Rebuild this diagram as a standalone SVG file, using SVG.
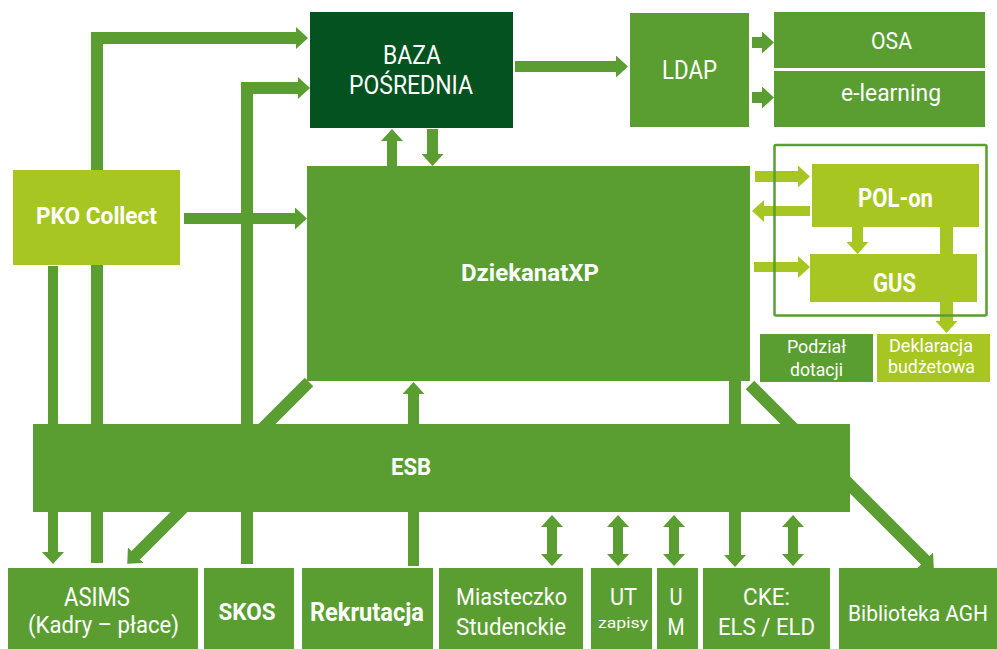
<svg xmlns="http://www.w3.org/2000/svg" width="997" height="649" viewBox="0 0 997 649">
<style>
  .g{fill:#5a9e32}
  .d{fill:#03521f}
  .l{fill:#a8c622}
  .c{fill:none;stroke:#5a9e32;stroke-linejoin:miter}
  .cl{fill:none;stroke:#a8c622;stroke-linejoin:miter}
  .w11{stroke-width:11}
  .w10{stroke-width:10}
  .w12{stroke-width:12}
  .w13{stroke-width:13}
  text{fill:#ffffff;font-family:Roboto,"Liberation Sans",sans-serif;text-anchor:middle}
  .n{font-size:24px;font-weight:400}
  .b{font-size:24px;font-weight:700}
  .s{font-size:19px;font-weight:400}
  .xs{font-size:15px;font-weight:400}
</style>
<defs>
  <marker id="ah" viewBox="0 0 12 22" refX="1" refY="11" markerWidth="12" markerHeight="22" markerUnits="userSpaceOnUse" orient="auto-start-reverse">
    <path d="M0,0 L12,11 L0,22 Z" fill="#5a9e32"/>
  </marker>
  <marker id="ahl" viewBox="0 0 12 22" refX="1" refY="11" markerWidth="12" markerHeight="22" markerUnits="userSpaceOnUse" orient="auto-start-reverse">
    <path d="M0,0 L12,11 L0,22 Z" fill="#a8c622"/>
  </marker>
</defs>
<rect width="997" height="649" fill="#ffffff"/>

<g id="connectors">
  <path class="c w12" d="M97,563 V38 H297" marker-end="url(#ah)"/>
  <path class="c w12" d="M247,564 V88 H299" marker-end="url(#ah)"/>
  <path class="c w10" d="M53,266 V553" marker-end="url(#ah)"/>
  <path class="c w12" d="M309,382 L135,556" marker-end="url(#ah)"/>
  <path class="c w11" d="M184,218.5 H296" marker-end="url(#ah)"/>
  <path class="c w11" d="M432.5,129 V155" marker-end="url(#ah)"/>
  <path class="c w10" d="M392,166 V140" marker-end="url(#ah)"/>
  <path class="c w11" d="M515,66.5 H617" marker-end="url(#ah)"/>
  <path class="c w11" d="M752,42.5 H763" marker-end="url(#ah)"/>
  <path class="c w11" d="M752,97.5 H763" marker-end="url(#ah)"/>
  <path class="c w11" d="M413.5,566 V393" marker-end="url(#ah)"/>
  <path class="c w12" d="M735,381 V556" marker-end="url(#ah)"/>
  <path class="c w12" d="M750,385 L926,561" marker-end="url(#ah)"/>
  <path class="c w10" d="M552,526 V555" marker-start="url(#ah)" marker-end="url(#ah)"/>
  <path class="c w10" d="M618,526 V555" marker-start="url(#ah)" marker-end="url(#ah)"/>
  <path class="c w10" d="M674,526 V555" marker-start="url(#ah)" marker-end="url(#ah)"/>
  <path class="c w10" d="M793,526 V555" marker-start="url(#ah)" marker-end="url(#ah)"/>
  <path class="cl w11" d="M755,176.5 H799" marker-end="url(#ahl)"/>
  <path class="cl w10" d="M810,211 H763" marker-end="url(#ahl)"/>
  <path class="cl w10" d="M754,267 H799" marker-end="url(#ahl)"/>
  <path class="cl w11" d="M857.5,227 V243" marker-end="url(#ahl)"/>
  <path class="cl w13" d="M946.5,227 V322" marker-end="url(#ahl)"/>
</g>

<g id="group-box">
  <rect x="774.5" y="145" width="212" height="170.5" rx="1.5" fill="none" stroke="#5a9e32" stroke-width="2.5"/>
</g>

<g id="baza">
  <rect class="d" x="310" y="12" width="203" height="116"/>
  <text class="n" x="412" y="64" textLength="58" lengthAdjust="spacingAndGlyphs" style="font-size:25px">BAZA</text>
  <text class="n" x="411" y="94" textLength="124" lengthAdjust="spacingAndGlyphs" style="font-size:25px">POŚREDNIA</text>
</g>
<g id="ldap">
  <rect class="g" x="630" y="13" width="119" height="114"/>
  <text class="n" x="689.5" y="79" textLength="55" lengthAdjust="spacingAndGlyphs" style="font-size:25px">LDAP</text>
</g>
<g id="osa">
  <rect class="g" x="774" y="12" width="211" height="56"/>
  <text class="n" x="891.5" y="49" textLength="41" lengthAdjust="spacingAndGlyphs">OSA</text>
</g>
<g id="elearning">
  <rect class="g" x="774" y="71" width="211" height="56"/>
  <text class="n" x="891" y="101" textLength="100" lengthAdjust="spacingAndGlyphs">e-learning</text>
</g>
<g id="pko">
  <rect class="l" x="13" y="170" width="167" height="95"/>
  <text class="b" x="96.5" y="224" textLength="121" lengthAdjust="spacingAndGlyphs">PKO Collect</text>
</g>
<g id="dziekanat">
  <rect class="g" x="307" y="166" width="443" height="215"/>
  <text class="b" x="530" y="281" textLength="138" lengthAdjust="spacingAndGlyphs">DziekanatXP</text>
</g>
<g id="polon">
  <rect class="l" x="812" y="164" width="167" height="63"/>
  <text class="b" x="895.5" y="207" textLength="75" lengthAdjust="spacingAndGlyphs" style="font-size:25px">POL-on</text>
</g>
<g id="gus">
  <rect class="l" x="810" y="254" width="167" height="48"/>
  <text class="b" x="894.5" y="292" textLength="43" lengthAdjust="spacingAndGlyphs" style="font-size:26px">GUS</text>
</g>
<g id="podzial">
  <rect class="g" x="760" y="334" width="113" height="48"/>
  <text class="s" x="816.5" y="353" textLength="59" lengthAdjust="spacingAndGlyphs">Podział</text>
  <text class="s" x="816.5" y="376" textLength="53" lengthAdjust="spacingAndGlyphs">dotacji</text>
</g>
<g id="deklaracja">
  <rect class="l" x="877" y="334" width="113" height="48"/>
  <text class="s" x="931" y="352" textLength="84" lengthAdjust="spacingAndGlyphs">Deklaracja</text>
  <text class="s" x="931.5" y="373" textLength="87" lengthAdjust="spacingAndGlyphs">budżetowa</text>
</g>
<g id="esb">
  <rect class="g" x="33" y="424" width="817" height="88"/>
  <text class="b" x="411" y="475" textLength="40" lengthAdjust="spacingAndGlyphs">ESB</text>
</g>
<g id="asims">
  <rect class="g" x="8" y="568" width="190" height="81"/>
  <text class="n" x="97" y="606" textLength="66" lengthAdjust="spacingAndGlyphs" style="font-size:25px">ASIMS</text>
  <text class="n" x="103.5" y="633" textLength="151" lengthAdjust="spacingAndGlyphs">(Kadry – płace)</text>
</g>
<g id="skos">
  <rect class="g" x="204" y="568" width="90" height="81"/>
  <text class="b" x="247" y="620" textLength="57" lengthAdjust="spacingAndGlyphs">SKOS</text>
</g>
<g id="rekrutacja">
  <rect class="g" x="302" y="568" width="131" height="81"/>
  <text class="b" x="367" y="621" textLength="114" lengthAdjust="spacingAndGlyphs" style="font-size:25px">Rekrutacja</text>
</g>
<g id="miasteczko">
  <rect class="g" x="439" y="568" width="144" height="81"/>
  <text class="n" x="511.5" y="605" textLength="111" lengthAdjust="spacingAndGlyphs">Miasteczko</text>
  <text class="n" x="511" y="635" textLength="110" lengthAdjust="spacingAndGlyphs">Studenckie</text>
</g>
<g id="ut">
  <rect class="g" x="591" y="568" width="61" height="81"/>
  <text class="n" x="623.5" y="605" textLength="27" lengthAdjust="spacingAndGlyphs">UT</text>
  <text class="xs" x="623" y="628" textLength="50" lengthAdjust="spacingAndGlyphs">zapisy</text>
</g>
<g id="um">
  <rect class="g" x="657" y="568" width="41" height="81"/>
  <text class="n" x="676" y="605" textLength="13" lengthAdjust="spacingAndGlyphs">U</text>
  <text class="n" x="676" y="635" textLength="17" lengthAdjust="spacingAndGlyphs">M</text>
</g>
<g id="cke">
  <rect class="g" x="703" y="568" width="127" height="81"/>
  <text class="n" x="766.5" y="605" textLength="47" lengthAdjust="spacingAndGlyphs">CKE:</text>
  <text class="n" x="766.5" y="635" textLength="97" lengthAdjust="spacingAndGlyphs">ELS / ELD</text>
</g>
<g id="biblioteka">
  <rect class="g" x="839" y="568" width="158" height="81"/>
  <text class="n" x="918" y="621" textLength="140" lengthAdjust="spacingAndGlyphs" style="font-size:22px">Biblioteka AGH</text>
</g>
</svg>
